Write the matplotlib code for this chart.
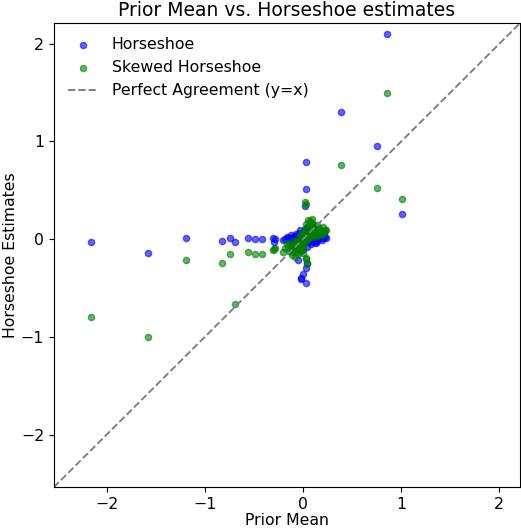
import numpy as np
import matplotlib
matplotlib.use('Agg')
import matplotlib.pyplot as plt

# prior mean (x) and the two sets of estimates (y)
prior_mean = [-2.16, -1.58, -1.197, -0.827, -0.74, -0.69, -0.556, -0.49, -0.417,
              -0.31, -0.29, -0.30, -0.20, -0.18, -0.15, -0.115, -0.10, -0.08,
              -0.05, -0.05, -0.03, -0.02, -0.017, 0.0, 0.003, 0.01, 0.02, 0.027,
              0.03, 0.03, 0.03, 0.044, 0.05, 0.07, 0.09, 0.10, 0.12, 0.15, 0.17,
              0.19, 0.21, 0.22, 0.23, 0.387, 0.756, 0.86, 1.004,
              -0.14, -0.12, -0.09, -0.07, -0.06, -0.04, -0.01, 0.02, 0.04, 0.06,
              0.08, 0.11, 0.13, 0.14, 0.06, -0.03, 0.0, -0.11, 0.08, 0.16,
              -0.13, -0.08, -0.06, -0.04, -0.02, 0.0, 0.01, 0.03, 0.05, 0.07,
              0.09, 0.10, 0.12, 0.14, 0.18, 0.20, -0.16, 0.04, 0.11, -0.09]
horseshoe = [-0.03, -0.146, 0.01, -0.017, 0.007, -0.024, 0.017, 0.0, 0.0,
             0.013, 0.005, -0.03, -0.01, 0.0, 0.01, 0.0, 0.02, -0.01,
             -0.21, 0.03, 0.0, -0.40, -0.41, 0.05, -0.36, 0.08, 0.34, -0.45,
             0.79, 0.51, -0.30, -0.24, 0.02, -0.02, 0.05, -0.03, -0.03, 0.03, 0.017,
             -0.01, 0.06, 0.02, 0.017, 1.30, 0.95, 2.10, 0.26,
             -0.02, 0.04, -0.04, 0.05, -0.05, 0.06, -0.06, 0.10, -0.08, 0.04,
             -0.05, 0.06, -0.04, 0.07, 0.10, 0.09, -0.10, -0.06, 0.12, 0.05,
             0.01, 0.03, -0.02, 0.02, 0.04, 0.02, -0.02, 0.06, -0.03, 0.11,
             -0.02, 0.08, 0.02, -0.02, 0.03, 0.01, 0.02, 0.12, 0.12, 0.0]
skewed_horseshoe = [-0.80, -1.00, -0.21, -0.245, -0.15, -0.66, -0.136, -0.15, -0.15,
                    -0.11, -0.09, -0.105, -0.13, -0.095, -0.08, -0.16, -0.07, -0.18,
                    -0.15, -0.05, -0.03, -0.10, -0.12, 0.0, -0.146, 0.02, 0.38, -0.19,
                    0.16, 0.36, -0.20, -0.25, 0.20, 0.19, 0.21, 0.10, 0.08, 0.05, 0.06,
                    0.04, 0.07, 0.09, 0.09, 0.76, 0.52, 1.50, 0.415,
                    -0.12, -0.10, -0.06, -0.09, -0.02, -0.06, 0.03, 0.05, -0.01, 0.06,
                    0.03, 0.12, 0.10, 0.15, 0.13, 0.04, -0.08, -0.13, 0.17, 0.11,
                    -0.05, -0.11, -0.13, -0.10, -0.04, 0.07, -0.05, 0.10, 0.01, 0.13,
                    0.02, 0.16, 0.06, 0.03, 0.08, 0.12, -0.04, 0.08, 0.04, -0.02]

lims = [-2.54, 2.21]

fig = plt.figure(figsize=(5.21, 5.28), dpi=100)
ax = fig.add_subplot(111)
ax.scatter(prior_mean, horseshoe, color='blue', alpha=0.6, s=20, label='Horseshoe')
ax.scatter(prior_mean, skewed_horseshoe, color='green', alpha=0.6, s=20, label='Skewed Horseshoe')
ax.plot(lims, lims, color='gray', linestyle='--', linewidth=1.4, label='Perfect Agreement (y=x)')

ax.set_xlim(lims)
ax.set_ylim(lims)
ax.set_xticks([-2, -1, 0, 1, 2])
ax.set_yticks([-2, -1, 0, 1, 2])
ax.tick_params(labelsize=11.3, length=3.3)
ax.set_xlabel('Prior Mean', fontsize=11.3, labelpad=1)
ax.set_ylabel('Horseshoe Estimates', fontsize=11.3, labelpad=2)
ax.set_title('Prior Mean vs. Horseshoe estimates', fontsize=13.5, pad=5)
ax.legend(loc='upper left', fontsize=11.3, frameon=False)

fig.subplots_adjust(left=0.103, right=0.998, bottom=0.077, top=0.956)
fig.savefig('out.png', dpi=100)
